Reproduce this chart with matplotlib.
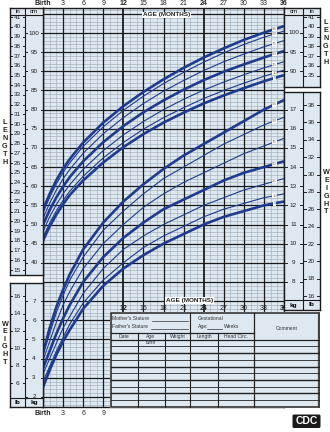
import matplotlib
matplotlib.use("Agg")
import matplotlib.pyplot as plt
import numpy as np
from matplotlib.patches import Rectangle, FancyBboxPatch
from matplotlib.transforms import blended_transform_factory

plt.rcParams['font.family'] = ['Liberation Sans', 'DejaVu Sans']

# ---- data: CDC boys, birth to 36 months ----
ages = [0, 1, 2, 3, 4, 6, 9, 12, 15, 18, 21, 24, 27, 30, 33, 36]
percentiles = [95, 90, 75, 50, 25, 10, 5]

# length-for-age (cm)
len_p95 = [53.9, 58.0, 61.6, 64.6, 67.1, 71.4, 76.6, 80.9, 84.6, 87.9, 90.9, 93.6, 96.0, 98.2, 100.1, 101.8]
len_p90 = [53.0, 57.1, 60.6, 63.6, 66.1, 70.4, 75.5, 79.8, 83.5, 86.8, 89.7, 92.4, 94.8, 97.0, 98.9, 100.5]
len_p75 = [51.6, 55.6, 59.0, 61.9, 64.4, 68.6, 73.7, 77.9, 81.6, 84.8, 87.6, 90.2, 92.5, 94.5, 96.4, 98.0]
len_p50 = [49.9, 53.8, 57.1, 59.9, 62.4, 66.5, 71.5, 75.7, 79.3, 82.4, 85.2, 87.7, 89.9, 91.8, 93.6, 95.3]
len_p25 = [48.2, 52.0, 55.2, 58.0, 60.4, 64.4, 69.3, 73.4, 76.9, 80.0, 82.7, 85.1, 87.2, 89.1, 90.9, 92.5]
len_p10 = [46.7, 50.4, 53.6, 56.3, 58.7, 62.6, 67.4, 71.4, 74.9, 77.9, 80.5, 82.9, 85.0, 86.9, 88.7, 90.3]
len_p5 = [45.8, 49.5, 52.6, 55.3, 57.7, 61.5, 66.2, 70.2, 73.6, 76.6, 79.2, 81.6, 83.7, 85.6, 87.4, 89.0]

# weight-for-age (kg)
wt_p95 = [4.3, 5.6, 6.7, 7.6, 8.4, 9.7, 11.1, 12.2, 13.1, 13.9, 14.6, 15.2, 15.8, 16.4, 17.0, 17.5]
wt_p90 = [4.2, 5.3, 6.4, 7.3, 8.1, 9.3, 10.7, 11.7, 12.6, 13.4, 14.0, 14.6, 15.2, 15.7, 16.2, 16.6]
wt_p75 = [3.9, 4.9, 5.9, 6.8, 7.5, 8.7, 10.0, 11.0, 11.9, 12.6, 13.2, 13.7, 14.2, 14.7, 15.1, 15.5]
wt_p50 = [3.5, 4.4, 5.3, 6.1, 6.8, 8.0, 9.3, 10.3, 11.1, 11.8, 12.3, 12.8, 13.3, 13.7, 14.0, 14.3]
wt_p25 = [3.2, 4.0, 4.8, 5.6, 6.2, 7.4, 8.7, 9.7, 10.4, 11.0, 11.5, 12.0, 12.4, 12.8, 13.1, 13.4]
wt_p10 = [2.8, 3.6, 4.4, 5.1, 5.8, 6.9, 8.1, 9.0, 9.8, 10.4, 10.9, 11.4, 11.8, 12.1, 12.4, 12.6]
wt_p5 = [2.5, 3.4, 4.2, 4.9, 5.5, 6.6, 7.8, 8.7, 9.4, 10.0, 10.5, 11.0, 11.4, 11.7, 12.0, 12.2]

length_curves = [len_p95, len_p90, len_p75, len_p50, len_p25, len_p10, len_p5]
weight_curves = [wt_p95, wt_p90, wt_p75, wt_p50, wt_p25, wt_p10, wt_p5]

month_labels = ["Birth", "3", "6", "9", "12", "15", "18", "21", "24", "27", "30", "33", "36"]
in_labels_left = list(range(15, 42))
cm_labels_left = list(range(40, 101, 5))
in_labels_right = list(range(35, 42))
cm_labels_right = [90, 95, 100]
kg_labels_right = list(range(8, 18))
lb_labels_right = list(range(16, 39, 2))
kg_labels_left = list(range(2, 8))
lb_labels_left = list(range(6, 17, 2))

NAVY = "#1d3b8f"
LIGHT = "#dde8f1"
MINOR = "#a3adb8"
MAJOR = "#1b1b1b"
LBL = "#6f6f6f"

W, H = 330, 432
fig = plt.figure(figsize=(W / 100, H / 100), dpi=100)
fig.patch.set_facecolor("white")


def px_axes(x0, y0, x1, y1, z=1):
    a = fig.add_axes([x0 / W, 1 - y1 / H, (x1 - x0) / W, (y1 - y0) / H])
    a.set_zorder(z)
    return a


# vertical scale shared by grid and side columns: cm per pixel row
CM100_Y, PX_PER_CM = 33.0, 3.83


def cm_at(py):
    return 100 - (py - CM100_Y) / PX_PER_CM


def cm_to_kg(cm):
    # 1 kg spans 5 cm of grid; 8 kg sits on the 35 cm line
    return (np.asarray(cm) + 5) / 5


GRID_TOP, GRID_BOT = 8, 407

# ---- main grid ----
ax = px_axes(43, GRID_TOP, 284, GRID_BOT, z=1)
ax.set_xlim(0, 36)
ax.set_ylim(cm_at(GRID_BOT), cm_at(GRID_TOP))
ax.set_facecolor(LIGHT)
ax.set_xticks([])
ax.set_yticks([])
for s in ax.spines.values():
    s.set_color(MAJOR)
    s.set_linewidth(1.0)

for m in range(1, 36):
    if m % 3:
        ax.axvline(m, color=MINOR, lw=0.45, zorder=1)
for m in range(3, 36, 3):
    ax.axvline(m, color=MAJOR, lw=1.3 if m % 12 == 0 else 0.9, zorder=2)
for c in range(3, 107):
    if c % 5:
        ax.axhline(c, color=MINOR, lw=0.45, zorder=1)
for c in range(5, 107, 5):
    ax.axhline(c, color=MAJOR, lw=0.9, zorder=2)

label_x = 34.6
thick = {95, 50, 5}
for p, vals in zip(percentiles, length_curves):
    ax.plot(ages, vals, color=NAVY, lw=1.9 if p in thick else 0.8,
            solid_capstyle="butt", zorder=4)
    ax.text(label_x, np.interp(label_x, ages, vals), str(p), fontsize=3.2,
            color=LBL, ha="center", va="center", zorder=6,
            bbox=dict(boxstyle="square,pad=0.05", fc="white", ec="none"))

axw = ax.twinx()
axw.set_ylim(cm_to_kg(cm_at(GRID_BOT)), cm_to_kg(cm_at(GRID_TOP)))
axw.set_yticks([])
axw.axis("off")
for p, vals in zip(percentiles, weight_curves):
    axw.plot(ages, vals, color=NAVY, lw=1.9 if p in thick else 0.8,
             solid_capstyle="butt", zorder=4)
    axw.text(label_x, np.interp(label_x, ages, vals), str(p), fontsize=3.2,
             color=LBL, ha="center", va="center", zorder=6,
             bbox=dict(boxstyle="square,pad=0.05", fc="white", ec="none"))

# month numbers along the top
tr_top = blended_transform_factory(ax.transData, fig.transFigure)
for i, lab in enumerate(month_labels):
    bold = lab in ("Birth", "12", "24", "36")
    ax.text(i * 3, 1 - 3.5 / H, lab, transform=tr_top, fontsize=5,
            ha="center", va="center", fontweight="bold" if bold else "normal",
            color="#222")
ax.text(14.9, cm_at(15), "AGE (MONTHS)", fontsize=4.6, fontweight="bold",
        ha="left", va="center", color="#222", zorder=7,
        bbox=dict(boxstyle="square,pad=0.15", fc="white", ec="none"))

# lower age labels
for i, lab in enumerate(month_labels):
    if i <= 3:
        ax.text(i * 3, 1 - 413.5 / H, lab, transform=tr_top, fontsize=5,
                ha="center", va="center",
                fontweight="bold" if lab == "Birth" else "normal", color="#222")
    else:
        ax.text(i * 3, cm_at(308.5), lab, fontsize=5, ha="center", va="center",
                fontweight="bold" if lab in ("12", "24", "36") else "normal",
                color="#222", zorder=7)
ax.text(21.9, cm_at(300.5), "AGE (MONTHS)", fontsize=4.6, fontweight="bold",
        ha="center", va="center", color="#222", zorder=7,
        bbox=dict(boxstyle="square,pad=0.15", fc="white", ec="none"))


# ---- side scale columns ----
def column(x0, y0, x1, y1, split, ylim):
    a = px_axes(x0, y0, x1, y1, z=3)
    a.set_xlim(0, 1)
    a.set_ylim(*ylim)
    a.set_facecolor(LIGHT)
    a.set_xticks([])
    a.set_yticks([])
    for s in a.spines.values():
        s.set_color(MAJOR)
        s.set_linewidth(1.0)
    a.axvline(split, color=MAJOR, lw=0.8)
    return a


def scale_labels(a, values, x_lo, x_hi, fs=4.6):
    tick = 0.07
    for v, lab in values:
        a.text((x_lo + x_hi) / 2, v, str(lab), fontsize=fs, ha="center",
               va="center", color="#222")
        a.plot([x_lo, x_lo + tick], [v, v], color="#222", lw=0.7)
        a.plot([x_hi - tick, x_hi], [v, v], color="#222", lw=0.7)


# left length column: in | cm
sp = 15 / 33
lc = column(10, 8, 43, 275, sp, (cm_at(275), cm_at(8)))
lc.axhline(cm_at(15), color=MAJOR, lw=0.8)
lc.text(sp / 2, cm_at(11.3), "in", fontsize=4.4, ha="center", va="center")
lc.text((1 + sp) / 2, cm_at(11.3), "cm", fontsize=4.4, ha="center", va="center")
scale_labels(lc, [(i * 2.54, i) for i in in_labels_left], 0, sp)
scale_labels(lc, [(c, c) for c in cm_labels_left], sp, 1)

# right length column: cm | in
sp = 19 / 36
rc = column(284, 8, 320, 87, sp, (cm_at(87), cm_at(8)))
rc.axhline(cm_at(15), color=MAJOR, lw=0.8)
rc.text(sp / 2, cm_at(11.3), "cm", fontsize=4.4, ha="center", va="center")
rc.text((1 + sp) / 2, cm_at(11.3), "in", fontsize=4.4, ha="center", va="center")
scale_labels(rc, [(c, c) for c in cm_labels_right], 0, sp)
scale_labels(rc, [(i * 2.54, i) for i in in_labels_right], sp, 1)

# right weight column: kg | lb
rw = column(284, 92, 320, 310, sp, (cm_to_kg(cm_at(310)), cm_to_kg(cm_at(92))))
rw.axhline(cm_to_kg(cm_at(300)), color=MAJOR, lw=0.8)
rw.text(sp / 2, cm_to_kg(cm_at(305)), "kg", fontsize=4.6, fontweight="bold",
        ha="center", va="center")
rw.text((1 + sp) / 2, cm_to_kg(cm_at(305)), "lb", fontsize=4.6,
        fontweight="bold", ha="center", va="center")
scale_labels(rw, [(k, k) for k in kg_labels_right], 0, sp)
scale_labels(rw, [(lb / 2.2046, lb) for lb in lb_labels_right], sp, 1)

# left weight column: lb | kg
sp = 15 / 33
lw_ = column(10, 283, 43, 407, sp, (cm_to_kg(cm_at(407)), cm_to_kg(cm_at(283))))
lw_.axhline(cm_to_kg(cm_at(398)), color=MAJOR, lw=0.8)
lw_.text(sp / 2, cm_to_kg(cm_at(402.5)), "lb", fontsize=4.6, fontweight="bold",
         ha="center", va="center")
lw_.text((1 + sp) / 2, cm_to_kg(cm_at(402.5)), "kg", fontsize=4.6,
         fontweight="bold", ha="center", va="center")
scale_labels(lw_, [(lb / 2.2046, lb) for lb in lb_labels_left], 0, sp)
scale_labels(lw_, [(k, k) for k in kg_labels_left], sp, 1)


# axis titles spelled vertically
def vword(word, x, y0, step):
    for i, ch in enumerate(word):
        fig.text(x / W, 1 - (y0 + i * step) / H, ch, fontsize=5.2,
                 fontweight="bold", ha="center", va="center", color="#222")


vword("LENGTH", 5, 123, 7.8)
vword("LENGTH", 326, 23, 7.8)
vword("WEIGHT", 326.5, 173, 7.8)
vword("WEIGHT", 5, 324, 7.6)

# ---- record table ----
tb = px_axes(110, 312, 320, 408, z=8)
tb.set_xlim(110, 320)
tb.set_ylim(408, 312)
tb.axis("off")
tb.add_patch(Rectangle((110, 312), 210, 96, fc="white", ec="none"))
tb.add_patch(Rectangle((110.5, 312.5), 208.5, 94.5, fc=LIGHT, ec="#222", lw=1.1))
tb.plot([319.3, 319.3], [313, 408], color="#444", lw=1.6)
tb.plot([190, 190], [312.5, 333], color="#222", lw=0.8)
tb.plot([254, 254], [312.5, 407], color="#222", lw=0.9)
tb.plot([110.5, 254], [333, 333], color="#222", lw=0.9)
tb.plot([110.5, 319], [339.5, 339.5], color="#222", lw=0.9)
for x in (137.5, 165, 190, 217.5):
    tb.plot([x, x], [333, 407], color="#222", lw=0.8)
rows = np.arange(339.5, 407, 6.75)
for i, y in enumerate(rows[1:]):
    tb.plot([110.5, 319], [y, y], color="#222", lw=1.0 if i % 2 else 0.6)
fs = 3.6
tb.text(112, 318.5, "Mother's Stature", fontsize=fs, va="center", color="#333")
tb.plot([152, 188], [320.5, 320.5], color="#333", lw=0.5)
tb.text(112, 326.5, "Father's Stature", fontsize=fs, va="center", color="#333")
tb.plot([151, 188], [328.5, 328.5], color="#333", lw=0.5)
tb.text(198, 318.5, "Gestational", fontsize=fs, va="center", color="#333")
tb.text(198, 326.5, "Age:", fontsize=fs, va="center", color="#333")
tb.plot([207, 222], [328.5, 328.5], color="#333", lw=0.5)
tb.text(224, 326.5, "Weeks", fontsize=fs, va="center", color="#333")
tb.text(286.5, 328, "Comment", fontsize=fs, ha="center", va="center", color="#333")
for x, lab in [(124, "Date"), (151, "Age"), (177.5, "Weight"), (204, "Length"),
               (235.5, "Head Circ.")]:
    tb.text(x, 336.2, lab, fontsize=fs, ha="center", va="center", color="#333")
tb.text(151, 342.8, "Birth", fontsize=fs, ha="center", va="center", color="#333")

# CDC mark
lg = px_axes(290, 412, 322, 430, z=8)
lg.set_xlim(0, 32)
lg.set_ylim(18, 0)
lg.axis("off")
lg.add_patch(FancyBboxPatch((2.5, 2.5), 28, 13.5, boxstyle="round,pad=0,rounding_size=1.5",
                            fc="#1a1a1a", ec="none"))
lg.text(16.5, 9.5, "CDC", fontsize=7.5, fontweight="bold", color="white",
        ha="center", va="center")

fig.savefig("out.png", dpi=100)
